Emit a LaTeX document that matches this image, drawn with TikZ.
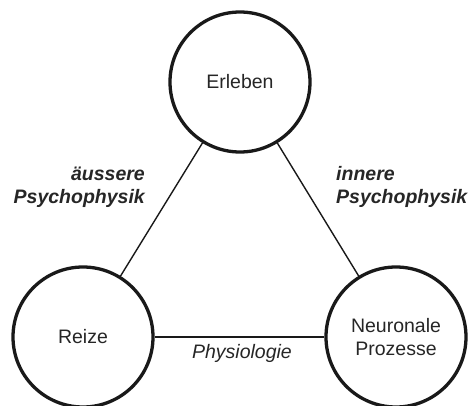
\documentclass[tikz,border=0pt]{standalone}
\usepackage{fontspec}
\setmainfont{Liberation Sans}
\begin{document}
\begin{tikzpicture}[x=1pt,y=-1pt,
  bigcircle/.style={circle,draw=black!90,line width=3.3pt,minimum size=140pt,inner sep=0pt,
    font=\fontsize{19.5}{23}\selectfont,align=center,text=black!85},
  link/.style={line width=1.4pt,draw=black!90},
  lab/.style={font=\fontsize{19.5}{23}\selectfont\bfseries\itshape,text=black!85,inner sep=0pt}]
\useasboundingbox (0,0) rectangle (472,405);
\node[bigcircle] (erl) at (240,82) {Erleben};
\node[bigcircle] (rei) at (83,337) {Reize};
\node[bigcircle] (neu) at (396,337) {Neuronale\\Prozesse};
\draw[link] (erl) -- (rei);
\draw[link] (erl) -- (neu);
\draw[link] (rei) -- (neu);
\node[lab,align=right,anchor=east] (aus) at (145,187) {äussere\\Psychophysik};
\node[lab,align=left,anchor=west] (inn) at (336,187) {innere\\Psychophysik};
\node[font=\fontsize{19.5}{23}\selectfont\itshape,text=black!85,inner sep=0pt] (phy) at (242,353) {Physiologie};
\end{tikzpicture}
\end{document}
